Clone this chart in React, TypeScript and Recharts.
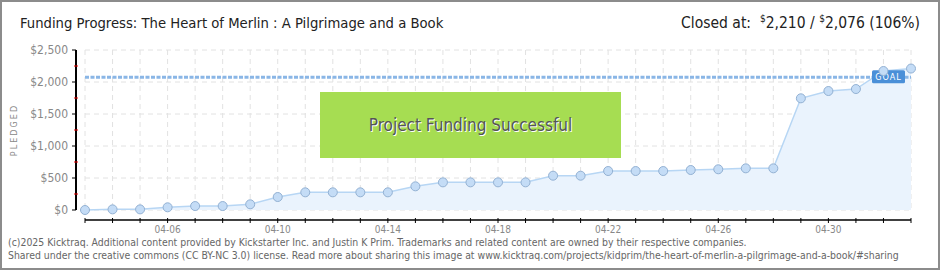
import * as R from "recharts"
import { Area, CartesianGrid, ComposedChart, ReferenceLine, XAxis, YAxis } from "recharts"

const dates = [
  "04-03", "04-04", "04-05", "04-06", "04-07", "04-08", "04-09", "04-10", "04-11", "04-12",
  "04-13", "04-14", "04-15", "04-16", "04-17", "04-18", "04-19", "04-20", "04-21", "04-22",
  "04-23", "04-24", "04-25", "04-26", "04-27", "04-28", "04-29", "04-30", "05-01", "05-02", "05-03",
]
const pledged = [
  0, 10, 10, 42, 62, 62, 89, 203, 276, 276,
  276, 276, 370, 432, 432, 432, 432, 536, 536, 609,
  609, 609, 625, 636, 651, 651, 1745, 1859, 1890, 2172, 2210,
]
const labeledDates = ["04-06", "04-10", "04-14", "04-18", "04-22", "04-26", "04-30"]
const yTicks = [0, 250, 500, 750, 1000, 1250, 1500, 1750, 2000, 2250, 2500]
const yMajor = [0, 500, 1000, 1500, 2000, 2500]
const goal = 2076
const closedAt = 2210
const title = "Funding Progress: The Heart of Merlin : A Pilgrimage and a Book"

const data = dates.map((d, i) => ({ date: d, pledged: pledged[i] }))
const font = "'DejaVu Sans Condensed', 'Liberation Sans Narrow', sans-serif"
const money = (v: number) => "$" + v.toLocaleString("en-US")

function XTick({ x, y, payload }: any) {
  const show = labeledDates.includes(payload.value)
  return (
    <g>
      <line x1={x} x2={x} y1={y + 8} y2={y + 13} stroke="#000" />
      {show && (
        <text x={x} y={y + 23} textAnchor="middle" fontSize={10} fill="#888" fontFamily={font}>
          {payload.value}
        </text>
      )}
    </g>
  )
}

function YTick({ x, y, payload }: any) {
  const major = yMajor.includes(payload.value)
  const ax = x - 9
  return (
    <g>
      {major ? (
        <line x1={ax - 4} x2={ax} y1={y} y2={y} stroke="#000" />
      ) : (
        <line x1={ax - 2} x2={ax + 2} y1={y} y2={y} stroke="#e00" />
      )}
      {major && (
        <text x={ax - 8} y={y + 4} textAnchor="end" fontSize={12} fill="#888" fontFamily={font}>
          {money(payload.value)}
        </text>
      )}
    </g>
  )
}

const usePlot = (R as any).usePlotArea

function AxisLines() {
  const p = (usePlot ? usePlot() : null) || { x: 85, y: 50, width: 826, height: 160 }
  const bottom = p.y + p.height
  return (
    <g>
      <line x1={p.x - 9} x2={p.x - 9} y1={p.y} y2={bottom} stroke="#000" strokeWidth={2} />
      <line x1={p.x} x2={p.x + p.width} y1={bottom + 10} y2={bottom + 10} stroke="#000" strokeWidth={1.5} />
    </g>
  )
}

function GoalLabel({ viewBox }: any) {
  if (!viewBox) return null
  const right = viewBox.x + viewBox.width
  return (
    <g>
      <rect x={right - 39} y={viewBox.y - 7} width={33} height={13} rx={1.5} fill="#4a8fd8" />
      <text x={right - 22.5} y={viewBox.y + 3} textAnchor="middle" fontSize={9} fill="#fff" fontFamily={font} letterSpacing={1}>
        GOAL
      </text>
    </g>
  )
}

export default function App() {
  return (
    <div style={{ position: "absolute", left: 0, top: 0, width: 940, height: 270, background: "#fff", fontFamily: font }}>
      <ComposedChart width={940} height={270} data={data} margin={{ top: 50, right: 29, bottom: 30, left: 0 }}>
        <CartesianGrid stroke="#e2e2e2" strokeDasharray="5 4" horizontalValues={yMajor} />
        <XAxis dataKey="date" interval={0} axisLine={false} tickLine={false} tickSize={0} tickMargin={0} height={30} tick={<XTick />} />
        <YAxis
          domain={[0, 2500]}
          ticks={yTicks}
          interval={0}
          width={85}
          axisLine={false}
          tickLine={false}
          tickSize={0}
          tickMargin={0}
          tick={<YTick />}
        />
        <Area
          dataKey="pledged"
          type="linear"
          stroke="#b7d6f4"
          strokeWidth={1.5}
          fill="#eaf3fd"
          fillOpacity={1}
          dot={{ r: 4.5, fill: "#c4dcf6", stroke: "#93b1d3", strokeWidth: 1 }}
          isAnimationActive={false}
        />
        <ReferenceLine
          segment={[{ x: dates[0], y: goal }, { x: dates[dates.length - 1], y: goal }]}
          stroke="#8ab6e6"
          strokeWidth={3}
          strokeDasharray="4 1.5"
          label={<GoalLabel />}
        />
        <AxisLines />
      </ComposedChart>

      <div style={{ position: "absolute", left: 20, top: 14, fontSize: 14.7, color: "#222", whiteSpace: "nowrap" }}>{title}</div>
      <div style={{ position: "absolute", right: 20, top: 13, fontSize: 15.5, color: "#222", whiteSpace: "nowrap" }}>
        Closed at:&nbsp; <sup style={{ fontSize: 10 }}>$</sup>
        {closedAt.toLocaleString("en-US")} / <sup style={{ fontSize: 10 }}>$</sup>
        {goal.toLocaleString("en-US")} ({Math.round((closedAt / goal) * 100)}%)
      </div>
      <div
        style={{
          position: "absolute",
          left: 320,
          top: 92,
          width: 301,
          height: 66,
          background: "#a6dd52",
          display: "flex",
          alignItems: "center",
          justifyContent: "center",
          fontSize: 17,
          color: "#555",
          textShadow: "1px 1px 0 #fff",
        }}
      >
        Project Funding Successful
      </div>
      <div
        style={{
          position: "absolute",
          left: 14,
          top: 130,
          transform: "translate(-50%, -50%) rotate(-90deg)",
          fontSize: 9,
          letterSpacing: 2,
          color: "#888",
        }}
      >
        PLEDGED
      </div>
      <div style={{ position: "absolute", left: 8, top: 236, fontSize: 10.4, color: "#666", lineHeight: "13px", whiteSpace: "nowrap" }}>
        (c)2025 Kicktraq. Additional content provided by Kickstarter Inc. and Justin K Prim. Trademarks and related content are owned by their respective companies.
        <br />
        Shared under the creative commons (CC BY-NC 3.0) license. Read more about sharing this image at
        www.kicktraq.com/projects/kidprim/the-heart-of-merlin-a-pilgrimage-and-a-book/#sharing
      </div>
      <div style={{ position: "absolute", left: 0, top: 0, width: 940, height: 270, boxSizing: "border-box", border: "2px solid #8c8c8c", pointerEvents: "none" }} />
    </div>
  )
}
